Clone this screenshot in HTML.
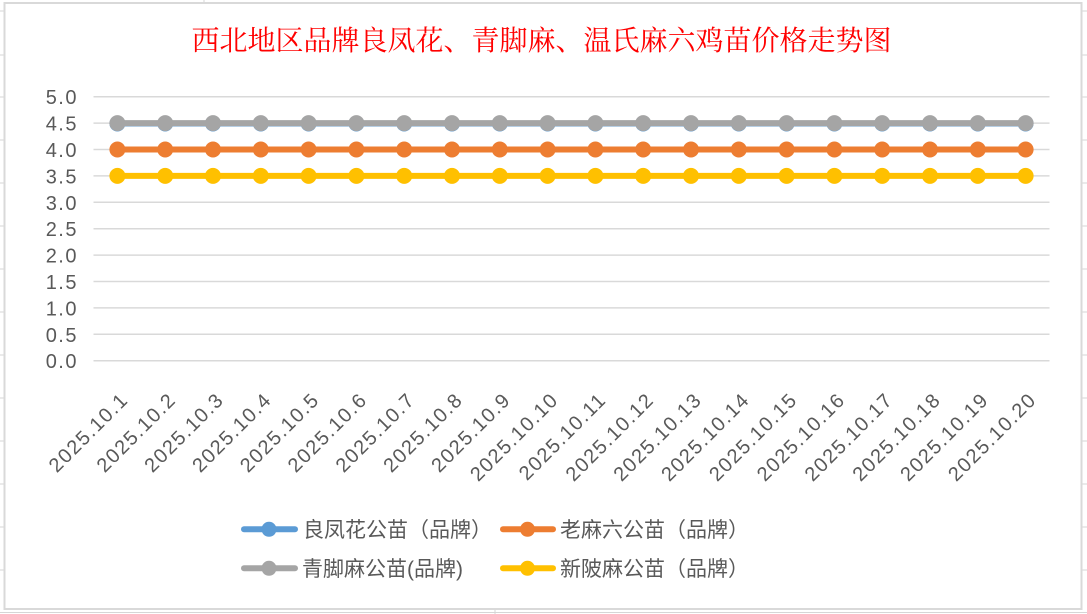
<!DOCTYPE html>
<html>
<head>
<meta charset="utf-8">
<style>
  html, body { margin: 0; padding: 0; background: #ffffff; }
  svg { display: block; }
  .ax { font-family: "Liberation Sans", "DejaVu Sans", sans-serif; font-size: 20px; fill: #595959; letter-spacing: 1.5px; }
  .lg { font-family: "Liberation Sans", "Noto Sans CJK SC", sans-serif; font-size: 21px; fill: #595959; }
  .tt { font-family: "Liberation Serif", "Noto Serif CJK SC", serif; font-size: 28px; fill: #ff0000; }
</style>
</head>
<body>
<svg width="1087" height="614" viewBox="0 0 1087 614" xmlns="http://www.w3.org/2000/svg">
  <defs>
    <marker id="mGray" markerUnits="userSpaceOnUse" markerWidth="20" markerHeight="20" refX="10" refY="10"><circle cx="10" cy="10" r="8" fill="#A5A5A5"/></marker>
    <marker id="mBlue" markerUnits="userSpaceOnUse" markerWidth="20" markerHeight="20" refX="10" refY="10"><circle cx="10" cy="10" r="8" fill="#5B9BD5"/></marker>
    <marker id="mOrange" markerUnits="userSpaceOnUse" markerWidth="20" markerHeight="20" refX="10" refY="10"><circle cx="10" cy="10" r="8" fill="#ED7D31"/></marker>
    <marker id="mYellow" markerUnits="userSpaceOnUse" markerWidth="20" markerHeight="20" refX="10" refY="10"><circle cx="10" cy="10" r="8" fill="#FFC000"/></marker>
  </defs>

  <!-- spreadsheet background gridlines outside chart -->
  <g stroke="#d6d6d6" stroke-width="1">
    <line x1="0" y1="11" x2="4" y2="11"/><line x1="0" y1="55" x2="4" y2="55"/><line x1="0" y1="97" x2="4" y2="97"/>
    <line x1="0" y1="140" x2="4" y2="140"/><line x1="0" y1="183" x2="4" y2="183"/><line x1="0" y1="226" x2="4" y2="226"/>
    <line x1="0" y1="269" x2="4" y2="269"/><line x1="0" y1="312" x2="4" y2="312"/><line x1="0" y1="355" x2="4" y2="355"/>
    <line x1="0" y1="398" x2="4" y2="398"/><line x1="0" y1="441" x2="4" y2="441"/><line x1="0" y1="484" x2="4" y2="484"/>
    <line x1="0" y1="527" x2="4" y2="527"/><line x1="0" y1="570" x2="4" y2="570"/>
    <line x1="1082" y1="11" x2="1087" y2="11"/><line x1="1082" y1="55" x2="1087" y2="55"/><line x1="1082" y1="97" x2="1087" y2="97"/>
    <line x1="1082" y1="140" x2="1087" y2="140"/><line x1="1082" y1="183" x2="1087" y2="183"/><line x1="1082" y1="226" x2="1087" y2="226"/>
    <line x1="1082" y1="269" x2="1087" y2="269"/><line x1="1082" y1="312" x2="1087" y2="312"/><line x1="1082" y1="355" x2="1087" y2="355"/>
    <line x1="1082" y1="398" x2="1087" y2="398"/><line x1="1082" y1="441" x2="1087" y2="441"/><line x1="1082" y1="484" x2="1087" y2="484"/>
    <line x1="1082" y1="527" x2="1087" y2="527"/><line x1="1082" y1="570" x2="1087" y2="570"/>
    <line x1="0" y1="612.5" x2="1087" y2="612.5"/>
    <line x1="204" y1="0" x2="204" y2="2"/>
    <line x1="495" y1="610" x2="495" y2="614"/>
  </g>

  <!-- chart border -->
  <rect x="4.5" y="3" width="1077" height="606" fill="#ffffff" stroke="#d9d9d9" stroke-width="2"/>

  <!-- title -->
  <text class="tt" x="541.5" y="50" text-anchor="middle">西北地区品牌良凤花、青脚麻、温氏麻六鸡苗价格走势图</text>

  <!-- horizontal gridlines -->
  <g stroke="#d9d9d9" stroke-width="1.5">
    <line x1="93.5" y1="96.7" x2="1049.5" y2="96.7"/>
    <line x1="93.5" y1="123.1" x2="1049.5" y2="123.1"/>
    <line x1="93.5" y1="149.5" x2="1049.5" y2="149.5"/>
    <line x1="93.5" y1="175.9" x2="1049.5" y2="175.9"/>
    <line x1="93.5" y1="202.3" x2="1049.5" y2="202.3"/>
    <line x1="93.5" y1="228.7" x2="1049.5" y2="228.7"/>
    <line x1="93.5" y1="255.1" x2="1049.5" y2="255.1"/>
    <line x1="93.5" y1="281.5" x2="1049.5" y2="281.5"/>
    <line x1="93.5" y1="307.9" x2="1049.5" y2="307.9"/>
    <line x1="93.5" y1="334.3" x2="1049.5" y2="334.3"/>
    <line x1="93.5" y1="360.7" x2="1049.5" y2="360.7"/>
  </g>

  <!-- y axis labels -->
  <g class="ax" text-anchor="end">
    <text x="78" y="104.2">5.0</text>
    <text x="78" y="130.6">4.5</text>
    <text x="78" y="157">4.0</text>
    <text x="78" y="183.4">3.5</text>
    <text x="78" y="209.8">3.0</text>
    <text x="78" y="236.2">2.5</text>
    <text x="78" y="262.6">2.0</text>
    <text x="78" y="289">1.5</text>
    <text x="78" y="315.4">1.0</text>
    <text x="78" y="341.8">0.5</text>
    <text x="78" y="368.2">0.0</text>
  </g>

  <!-- series -->
  <polyline fill="none" stroke="#5B9BD5" stroke-width="6" marker-start="url(#mBlue)" marker-mid="url(#mBlue)" marker-end="url(#mBlue)"
    points="117.4,123.5 165.2,123.5 213,123.5 260.8,123.5 308.6,123.5 356.4,123.5 404.2,123.5 452,123.5 499.8,123.5 547.6,123.5 595.4,123.5 643.2,123.5 691,123.5 738.8,123.5 786.6,123.5 834.4,123.5 882.2,123.5 930,123.5 977.8,123.5 1025.6,123.5"/>
  <polyline fill="none" stroke="#ED7D31" stroke-width="6" marker-start="url(#mOrange)" marker-mid="url(#mOrange)" marker-end="url(#mOrange)"
    points="117.4,149.5 165.2,149.5 213,149.5 260.8,149.5 308.6,149.5 356.4,149.5 404.2,149.5 452,149.5 499.8,149.5 547.6,149.5 595.4,149.5 643.2,149.5 691,149.5 738.8,149.5 786.6,149.5 834.4,149.5 882.2,149.5 930,149.5 977.8,149.5 1025.6,149.5"/>
  <polyline fill="none" stroke="#A5A5A5" stroke-width="6" marker-start="url(#mGray)" marker-mid="url(#mGray)" marker-end="url(#mGray)"
    points="117.4,123.1 165.2,123.1 213,123.1 260.8,123.1 308.6,123.1 356.4,123.1 404.2,123.1 452,123.1 499.8,123.1 547.6,123.1 595.4,123.1 643.2,123.1 691,123.1 738.8,123.1 786.6,123.1 834.4,123.1 882.2,123.1 930,123.1 977.8,123.1 1025.6,123.1"/>
  <polyline fill="none" stroke="#FFC000" stroke-width="6" marker-start="url(#mYellow)" marker-mid="url(#mYellow)" marker-end="url(#mYellow)"
    points="117.4,175.9 165.2,175.9 213,175.9 260.8,175.9 308.6,175.9 356.4,175.9 404.2,175.9 452,175.9 499.8,175.9 547.6,175.9 595.4,175.9 643.2,175.9 691,175.9 738.8,175.9 786.6,175.9 834.4,175.9 882.2,175.9 930,175.9 977.8,175.9 1025.6,175.9"/>

  <!-- x axis labels -->
  <g class="ax" text-anchor="end">
    <text transform="translate(129.4,401) rotate(-45)">2025.10.1</text>
    <text transform="translate(177.2,401) rotate(-45)">2025.10.2</text>
    <text transform="translate(225,401) rotate(-45)">2025.10.3</text>
    <text transform="translate(272.8,401) rotate(-45)">2025.10.4</text>
    <text transform="translate(320.6,401) rotate(-45)">2025.10.5</text>
    <text transform="translate(368.4,401) rotate(-45)">2025.10.6</text>
    <text transform="translate(416.2,401) rotate(-45)">2025.10.7</text>
    <text transform="translate(464,401) rotate(-45)">2025.10.8</text>
    <text transform="translate(511.8,401) rotate(-45)">2025.10.9</text>
    <text transform="translate(559.6,401) rotate(-45)">2025.10.10</text>
    <text transform="translate(607.4,401) rotate(-45)">2025.10.11</text>
    <text transform="translate(655.2,401) rotate(-45)">2025.10.12</text>
    <text transform="translate(703,401) rotate(-45)">2025.10.13</text>
    <text transform="translate(750.8,401) rotate(-45)">2025.10.14</text>
    <text transform="translate(798.6,401) rotate(-45)">2025.10.15</text>
    <text transform="translate(846.4,401) rotate(-45)">2025.10.16</text>
    <text transform="translate(894.2,401) rotate(-45)">2025.10.17</text>
    <text transform="translate(942,401) rotate(-45)">2025.10.18</text>
    <text transform="translate(989.8,401) rotate(-45)">2025.10.19</text>
    <text transform="translate(1037.6,401) rotate(-45)">2025.10.20</text>
  </g>

  <!-- legend -->
  <g stroke-width="6" stroke-linecap="round">
    <line x1="244" y1="529.3" x2="295" y2="529.3" stroke="#5B9BD5"/>
    <line x1="503" y1="529.3" x2="553" y2="529.3" stroke="#ED7D31"/>
    <line x1="244" y1="568.3" x2="295" y2="568.3" stroke="#A5A5A5"/>
    <line x1="503" y1="568.3" x2="553" y2="568.3" stroke="#FFC000"/>
  </g>
  <circle cx="269" cy="529.3" r="7.5" fill="#5B9BD5"/>
  <circle cx="527.5" cy="529.3" r="7.5" fill="#ED7D31"/>
  <circle cx="269" cy="568.3" r="7.5" fill="#A5A5A5"/>
  <circle cx="527.5" cy="568.3" r="7.5" fill="#FFC000"/>
  <g class="lg">
    <text x="303" y="537">良凤花公苗（品牌）</text>
    <text x="560" y="537">老麻六公苗（品牌）</text>
    <text x="302" y="576">青脚麻公苗(品牌)</text>
    <text x="560" y="576">新陂麻公苗（品牌）</text>
  </g>
</svg>
</body>
</html>
